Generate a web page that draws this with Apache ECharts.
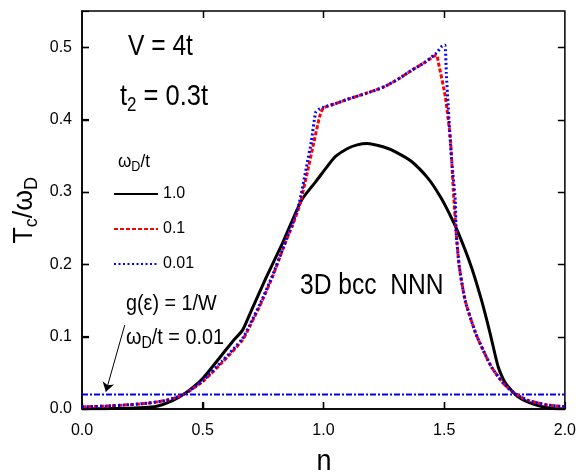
<!DOCTYPE html>
<html>
<head>
<meta charset="utf-8">
<script src="https://cdn.jsdelivr.net/npm/echarts@6/dist/echarts.min.js"></script>
<style>html,body{margin:0;padding:0;background:#fff}#c{width:579px;height:473px}</style>
</head>
<body>
<div id="c"></div>
<script>
// ---- data ----
var nBlack = [0, 0.1, 0.2, 0.3, 0.35, 0.4, 0.445, 0.5, 0.58, 0.623, 0.665, 0.7, 0.763, 0.83, 0.91, 0.97, 1.02, 1.05, 1.1, 1.14, 1.18, 1.25, 1.30, 1.365, 1.435, 1.485, 1.52, 1.559, 1.613, 1.655, 1.69, 1.724, 1.753, 1.806, 1.876, 1.94, 2.0];
var tBlack = [0, 0.0005, 0.001, 0.003, 0.008, 0.016, 0.026, 0.042, 0.075, 0.093, 0.109, 0.135, 0.182, 0.229, 0.289, 0.315, 0.337, 0.349, 0.360, 0.365, 0.367, 0.362, 0.355, 0.342, 0.318, 0.293, 0.271, 0.243, 0.196, 0.15, 0.105, 0.058, 0.036, 0.017, 0.006, 0.001, 0];

var nRed = [0, 0.1, 0.2, 0.27, 0.35, 0.42, 0.5, 0.58, 0.664, 0.693, 0.74, 0.788, 0.83, 0.858, 0.87, 0.9, 0.93, 0.96, 0.985, 1.0, 1.05, 1.1, 1.175, 1.25, 1.31, 1.365, 1.42, 1.468, 1.476, 1.505, 1.526, 1.538, 1.55, 1.563, 1.587, 1.63, 1.662, 1.696, 1.744, 1.79, 1.847, 1.92, 2.0];
var tRed = [0.003, 0.004, 0.006, 0.008, 0.012, 0.02, 0.038, 0.064, 0.095, 0.113, 0.145, 0.182, 0.219, 0.243, 0.252, 0.28, 0.322, 0.368, 0.405, 0.416, 0.422, 0.428, 0.436, 0.445, 0.456, 0.468, 0.479, 0.489, 0.479, 0.431, 0.372, 0.302, 0.243, 0.196, 0.15, 0.105, 0.081, 0.058, 0.036, 0.022, 0.012, 0.006, 0.003];

var nBlue = [0, 0.1, 0.2, 0.27, 0.35, 0.42, 0.5, 0.58, 0.664, 0.693, 0.74, 0.788, 0.83, 0.858, 0.87, 0.9, 0.93, 0.95, 0.968, 0.985, 1.0, 1.05, 1.1, 1.175, 1.25, 1.31, 1.365, 1.42, 1.468, 1.49, 1.503, 1.509, 1.517, 1.53, 1.546, 1.55, 1.563, 1.587, 1.63, 1.662, 1.696, 1.744, 1.79, 1.847, 1.92, 2.0];
var tBlue = [0.003, 0.004, 0.006, 0.008, 0.012, 0.02, 0.039, 0.066, 0.097, 0.115, 0.147, 0.184, 0.22, 0.245, 0.254, 0.285, 0.335, 0.37, 0.41, 0.415, 0.417, 0.422, 0.428, 0.436, 0.445, 0.456, 0.468, 0.479, 0.492, 0.501, 0.503, 0.464, 0.417, 0.348, 0.289, 0.243, 0.196, 0.15, 0.105, 0.081, 0.058, 0.036, 0.022, 0.012, 0.006, 0.003];

var nFlat = [0, 2.0];
var tFlat = [0.02, 0.02];

var seriesNames = ['1.0', '0.1', '0.01'];
var xTicks = [0.5, 1.0, 1.5];
var yTicks = [0.1, 0.2, 0.3, 0.4, 0.5];
var X_MIN = 0, X_MAX = 2, Y_MIN = 0, Y_MAX = 0.55;

function zip(a, b) { return a.map(function (v, i) { return [v, b[i]]; }); }

var FONT = '"Liberation Sans", Arial, sans-serif';
var TICK_LEN = 7;

// tick marks on all four frame sides, positioned through the axes' scales
function renderXTick(params, api) {
  var v = api.value(0);
  var b = api.coord([v, Y_MIN]);
  var t = api.coord([v, Y_MAX]);
  var x = Math.round(b[0]) + 0.5;
  return { type: 'group', children: [
    { type: 'rect', shape: { x: x - 0.75, y: b[1] - TICK_LEN, width: 1.5, height: TICK_LEN }, style: { fill: '#000' } },
    { type: 'rect', shape: { x: x - 0.75, y: t[1], width: 1.5, height: TICK_LEN }, style: { fill: '#000' } }
  ] };
}
function renderYTick(params, api) {
  var v = api.value(1);
  var l = api.coord([X_MIN, v]);
  var r = api.coord([X_MAX, v]);
  var y = Math.round(l[1]) + 0.5;
  return { type: 'group', children: [
    { type: 'rect', shape: { x: l[0], y: y - 0.75, width: TICK_LEN, height: 1.5 }, style: { fill: '#000' } },
    { type: 'rect', shape: { x: r[0] - TICK_LEN, y: y - 0.75, width: TICK_LEN, height: 1.5 }, style: { fill: '#000' } }
  ] };
}

var chart = echarts.init(document.getElementById('c'), null, { renderer: 'canvas' });
chart.setOption({
  backgroundColor: '#fff',
  animation: false,
  grid: { left: 82, right: 12, top: 11, bottom: 64, containLabel: false,
    show: true, borderColor: '#000', borderWidth: 1.5, backgroundColor: 'transparent' },
  legend: {
    data: seriesNames,
    orient: 'vertical',
    left: 108, top: 181,
    itemWidth: 44, itemHeight: 14, itemGap: 19,
    itemStyle: { opacity: 0 },
    textStyle: { fontFamily: FONT, fontSize: 16, color: '#000' }
  },
  xAxis: {
    type: 'value', min: X_MIN, max: X_MAX, interval: 0.5,
    axisLine: { show: true, onZero: false, lineStyle: { color: '#000', width: 1.5 } },
    axisTick: { show: true, inside: true, length: TICK_LEN, lineStyle: { color: '#000', width: 1.2 } },
    splitLine: { show: false },
    axisLabel: { fontFamily: FONT, fontSize: 16, color: '#000', margin: 14,
      formatter: function (v) { return v.toFixed(1); } }
  },
  yAxis: {
    type: 'value', min: Y_MIN, max: Y_MAX, interval: 0.1,
    axisLine: { show: true, onZero: false, lineStyle: { color: '#000', width: 1.5 } },
    axisTick: { show: true, inside: true, length: TICK_LEN, lineStyle: { color: '#000', width: 1.2 } },
    splitLine: { show: false },
    axisLabel: { fontFamily: FONT, fontSize: 16, color: '#000', margin: 10,
      formatter: function (v) { return v > 0.5001 ? '' : v.toFixed(1); } }
  },
  series: [{
    name: 'flat', type: 'line', data: zip(nFlat, tFlat), symbol: 'none',
    lineStyle: { color: '#0000ee', width: 2, type: [6, 2, 2, 2] },
    markLine: {
      silent: true, symbol: ['none', 'arrow'], symbolSize: 9,
      label: { show: false },
      lineStyle: { color: '#000', width: 1, type: 'solid' },
      data: [[{ coord: [0.177, 0.116] }, { coord: [0.099, 0.024] }]]
    }
  }, {
    name: '1.0', type: 'line', data: zip(nBlack, tBlack), symbol: 'none', smooth: 0.2,
    color: '#000', lineStyle: { color: '#000', width: 3 }
  }, {
    name: '0.1', type: 'line', data: zip(nRed, tRed), symbol: 'none', smooth: 0.2,
    color: '#ff0000', lineStyle: { color: '#ff0000', width: 3, type: [4, 2] }
  }, {
    name: '0.01', type: 'line', data: zip(nBlue, tBlue), symbol: 'none', smooth: 0.2,
    color: '#0000ff', lineStyle: { color: '#0000ff', width: 3, type: [2, 2.5] }
  }, {
    name: 'xticks', type: 'custom', silent: true, clip: false, z: 10,
    data: xTicks.map(function (v) { return [v, Y_MIN]; }), renderItem: renderXTick
  }, {
    name: 'yticks', type: 'custom', silent: true, clip: false, z: 10,
    data: yTicks.map(function (v) { return [X_MIN, v]; }), renderItem: renderYTick
  }],
  graphic: [
    { type: 'text', left: 10, top: 177, rotation: Math.PI / 2, scaleX: 0.95,
      style: { text: '{a|T}{s|c}{a|/ω}{s|D}', fill: '#000',
        rich: { a: { fontSize: 28, lineHeight: 34, fontFamily: FONT }, s: { fontSize: 19, verticalAlign: 'bottom', fontFamily: FONT } } } },
    { type: 'text', x: 128, y: 47, scaleX: 0.82,
      style: { text: 'V = 4t', fontFamily: FONT, fontSize: 30, fill: '#000', verticalAlign: 'middle' } },
    { type: 'text', x: 120, y: 97, scaleX: 0.85,
      style: { text: '{a|t}{s|2}{a| = 0.3t}', fill: '#000', verticalAlign: 'middle',
        rich: { a: { fontSize: 30, lineHeight: 36, fontFamily: FONT }, s: { fontSize: 20, verticalAlign: 'bottom', fontFamily: FONT } } } },
    { type: 'text', x: 118, y: 162, scaleX: 0.9,
      style: { text: '{a|ω}{s|D}{a|/t}', fill: '#000', verticalAlign: 'middle',
        rich: { a: { fontSize: 19, lineHeight: 24, fontFamily: FONT }, s: { fontSize: 14, verticalAlign: 'bottom', fontFamily: FONT } } } },
    { type: 'text', x: 126, y: 304, scaleX: 0.9,
      style: { text: 'g(ε) = 1/W', fontFamily: FONT, fontSize: 22, fill: '#000', verticalAlign: 'middle' } },
    { type: 'text', x: 126, y: 338, scaleX: 0.9,
      style: { text: '{a|ω}{s|D}{a|/t = 0.01}', fill: '#000', verticalAlign: 'middle',
        rich: { a: { fontSize: 22, lineHeight: 28, fontFamily: FONT }, s: { fontSize: 16, verticalAlign: 'bottom', fontFamily: FONT } } } },
    { type: 'text', x: 300, y: 286, scaleX: 0.82,
      style: { text: '3D bcc  NNN', fontFamily: FONT, fontSize: 30, fill: '#000', verticalAlign: 'middle' } },
    { type: 'text', x: 324, y: 462, scaleX: 0.9,
      style: { text: 'n', fontFamily: FONT, fontSize: 30, fill: '#000', align: 'center', verticalAlign: 'middle' } }
  ]
});
</script>
</body>
</html>
